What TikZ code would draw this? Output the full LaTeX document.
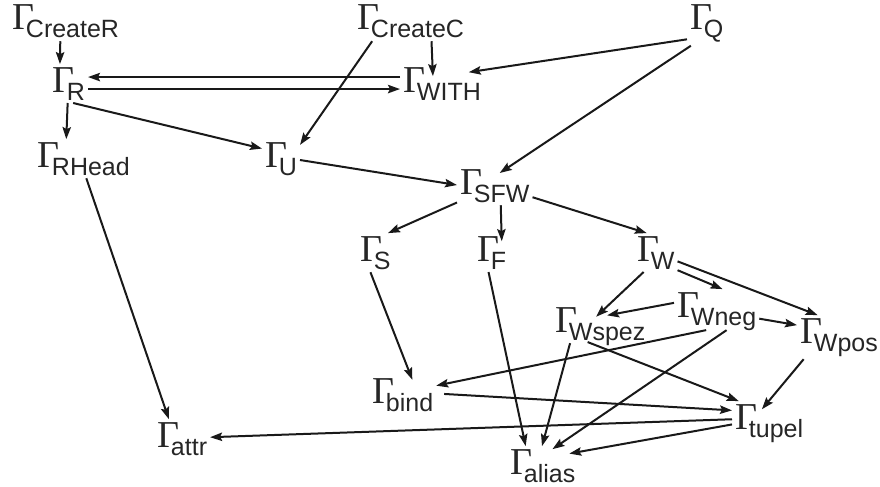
\documentclass[tikz,border=0pt]{standalone}
\usepackage{fontspec}
\usetikzlibrary{arrows.meta}
\newfontfamily\gammafont{Liberation Serif}
\newfontfamily\subfont{Liberation Sans}
\newcommand\ctxG[1]{{\gammafont\fontsize{19pt}{19pt}\selectfont Γ}\kern-4pt\raisebox{-4pt}{\subfont\fontsize{12.5pt}{12.5pt}\selectfont #1}}
\tikzstyle{ctx}=[
  anchor=base west,
  inner sep=1.5pt,
  outer sep=0pt,
  text=black!85,
]
\tikzstyle{arrow}=[
  ->,
  draw=black!90,
  line width=1pt,
]
\tikzset{
  >={Stealth[length=6pt,width=4.2pt,inset=1pt]},
}

\begin{document}
\begin{tikzpicture}[x=0.5pt, y=-0.5pt]
  \useasboundingbox (0,0) rectangle (880,487);
  %% top rows
  \node (createR) [ctx] at (9,30) {\ctxG{CreateR}};
  \node (createC) [ctx] at (354,30) {\ctxG{CreateC}};
  \node (Q) [ctx] at (687,30) {\ctxG{Q}};
  \node (R) [ctx] at (50,92) {\ctxG{R}};
  \node (WITH) [ctx] at (400,92) {\ctxG{WITH}};
  \node (RHead) [ctx] at (35,167) {\ctxG{RHead}};
  \node (U) [ctx] at (262,167) {\ctxG{U}};
  \node (SFW) [ctx] at (457,194) {\ctxG{SFW}};
  %% lower part
  \node (S) [ctx] at (357,261) {\ctxG{S}};
  \node (F) [ctx] at (474,261) {\ctxG{F}};
  \node (W) [ctx] at (634,261) {\ctxG{W}};
  \node (Wneg) [ctx] at (674,317) {\ctxG{Wneg}};
  \node (Wspez) [ctx] at (552,332) {\ctxG{Wspez}};
  \node (Wpos) [ctx] at (797,343) {\ctxG{Wpos}};
  \node (bind) [ctx] at (369,403) {\ctxG{bind}};
  \node (tupel) [ctx] at (732,429) {\ctxG{tupel}};
  \node (attr) [ctx] at (154,447) {\ctxG{attr}};
  \node (alias) [ctx] at (507,474) {\ctxG{alias}};
  %%
  \draw [arrow] (createR.-105) -- (R.115);
  \draw [arrow] ([yshift=3.25pt]WITH.west) -- ([yshift=3.25pt]R.east);
  \draw [arrow] ([yshift=-2.75pt]R.east) -- ([yshift=-2.75pt]WITH.west);
  \draw [arrow] (R.-94) -- (RHead.132);
  \draw [arrow] (R.-78) -- (U.152);
  \draw [arrow, shorten >=-6pt] (createC.-43) -- (WITH.116);
  \draw [arrow] (createC.-153) -- (U.36);
  \draw [arrow, shorten >=-7.6pt] (Q.-142) -- (WITH.18);
  \draw [arrow, shorten >=-6.2pt] (Q.-126) -- (SFW.52);
  \draw [arrow] (U.-4) -- (SFW.179);
  \draw [arrow] (RHead.-83) -- (attr.124);
  %%
  \draw [arrow] (SFW.-156) -- (S.57);
  \draw [arrow, shorten >=-4pt] (SFW.-73) -- (F.63);
  \draw [arrow] (SFW.-17) -- (W.115);
  \draw [arrow, shorten >=-9.2pt] (W.-122) -- (Wspez.67);
  \draw [arrow] (W.-39) -- (Wneg.75);
  \draw [arrow] (W.-22) -- (Wpos.134);
  \draw [arrow, shorten >=-21pt] (Wneg.169) -- (Wspez.21);
  \draw [arrow] (Wneg.-10) -- (Wpos.164);
  \draw [arrow, shorten >=-5.3pt] (Wpos.-148) -- (tupel.91);
  \draw [arrow, shorten <=-8.4pt] (Wspez.-82) -- (tupel.144);
  \draw [arrow, shorten <=-7.6pt] (Wneg.-139) -- (bind.15);
  \draw [arrow, shorten <=-2.7pt, shorten >=-2.7pt] (Wneg.-76) -- (alias.54);
  \draw [arrow, shorten <=-2.6pt] (Wspez.-145) -- (alias.92);
  \draw [arrow] (F.-99) -- (alias.131);
  \draw [arrow, shorten >=-2.5pt] (S.-104) -- (bind.68);
  \draw [arrow, shorten <=4pt] (bind.2) -- (tupel.161);
  \draw [arrow] (tupel.174) -- (attr.3);
  \draw [arrow, shorten >=-4.6pt] (tupel.-178) -- (alias.21);
\end{tikzpicture}
\end{document}
